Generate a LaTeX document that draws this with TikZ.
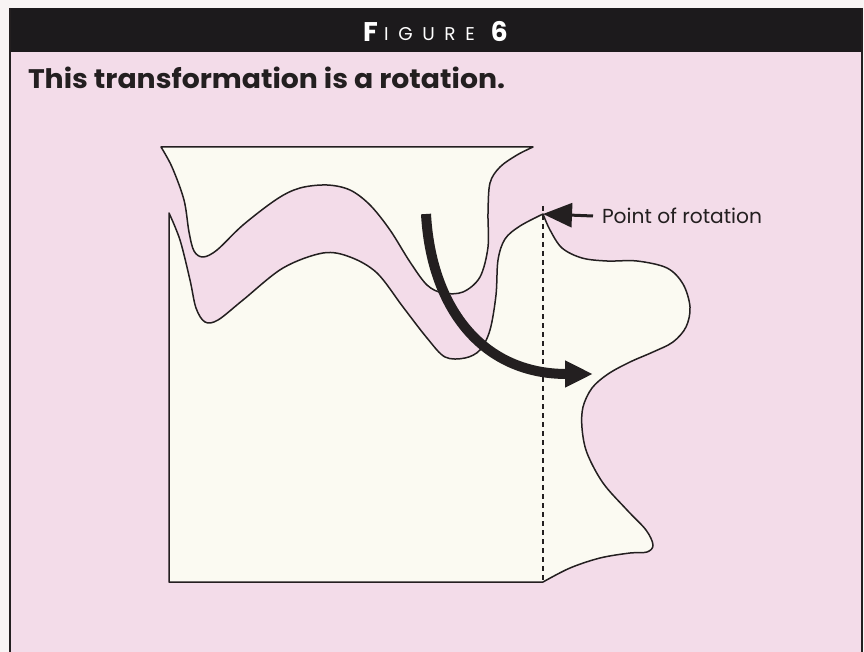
\documentclass[tikz,border=0pt]{standalone}
\usepackage{fontspec}
\setmainfont{Poppins}
\usepackage{graphicx}
\usetikzlibrary{arrows.meta}
\definecolor{pinkbg}{RGB}{243,220,233}
\definecolor{outside}{RGB}{248,244,244}
\definecolor{cream}{RGB}{251,250,242}
\definecolor{band}{RGB}{28,26,28}
\definecolor{ink}{RGB}{35,31,32}
\begin{document}
\begin{tikzpicture}[x=1pt,y=-1pt,
  frameline/.style={draw=ink,line width=2pt},
  figshape/.style={fill=cream,draw=ink,line width=1.5pt,line join=round},
  pivotline/.style={draw=ink,line width=1.4pt,dash pattern=on 5pt off 4pt},
  bigarrow/.style={draw=ink,line width=10pt,-{Triangle[length=28pt,width=25pt]}},
  ptarrow/.style={draw=ink,line width=3pt,-{Triangle[length=29pt,width=24pt]}},
  lbl/.style={inner sep=0pt,outer sep=0pt,text=ink}]
\useasboundingbox (0,0) rectangle (864,652);
\fill[outside] (0,0) rectangle (864,652);
\fill[pinkbg] (10,52) rectangle (862,652);
\fill[band] (10,8) rectangle (862,52);
\draw[frameline] (10,8) -- (10,652);
\draw[frameline] (862,8) -- (862,652);
% heading
\node[anchor=base west,inner sep=0pt,text=white] (figF) at (363,42) {\fontsize{27}{27}\selectfont\bfseries F};
\node[anchor=base west,inner sep=0pt,text=white] (figW) at (384,41) {\fontsize{18.5}{18.5}\selectfont\addfontfeatures{LetterSpace=52}IGURE};
\node[anchor=base east,inner sep=0pt,text=white] (figN) at (508,42) {\fontsize{27}{27}\selectfont\bfseries 6};
\node[lbl,anchor=base west] (title) at (28,89) {\resizebox{477pt}{21.5pt}{\bfseries This transformation is a rotation.}};
% upper (rotated) shape
\path[figshape] (161,147) -- (533,147) -- plot[smooth,tension=0.55] coordinates {(533,147) (517,155) (500,167) (490,183) (488,213) (488,247) (480,277) (463,292) (443,293) (427,285) (410,262) (390,230) (370,205) (350,190) (327,185) (300,188) (277,199) (243,225) (217,250) (203,257) (194,251) (189,232) (184,200) (172,167) (161,147)} -- cycle;
% lower (original) shape
\path[figshape] (169,582) -- (169,213) -- plot[smooth,tension=0.55] coordinates {(169,213) (180,240) (190,280) (196,308) (205,322) (218,320) (243,300) (283,268) (323,253) (350,257) (377,273) (403,307) (427,338) (445,357) (465,358) (480,350) (490,330) (496,295) (498,260) (505,239) (520,226) (543,214)} -- plot[smooth,tension=0.55] coordinates {(543,214) (550,230) (562,248) (582,258) (607,261) (637,261) (667,268) (683,284) (690,307) (686,327) (673,342) (653,352) (630,362) (608,374) (592,388) (583,407) (582,428) (587,453) (603,483) (627,510) (646,530) (653,545) (647,552) (630,553) (600,558) (570,568) (543,582)} -- cycle;
\coordinate (pivot) at (543,214);
\coordinate (pivotfoot) at (543,582);
\draw[pivotline] ([yshift=8pt]pivot) -- (pivotfoot);
% rotation arrow
\coordinate (as) at (426,214);
\coordinate (ae) at (593,374);
\draw[bigarrow] (as) .. controls (431,305) and (480,374) .. (ae);
% label
\node[lbl,anchor=west] (ptlabel) at (602,216) {\resizebox{160pt}{15.5pt}{Point of rotation}};
\draw[ptarrow] ([xshift=-9pt]ptlabel.west) -- (pivot);
\end{tikzpicture}
\end{document}
